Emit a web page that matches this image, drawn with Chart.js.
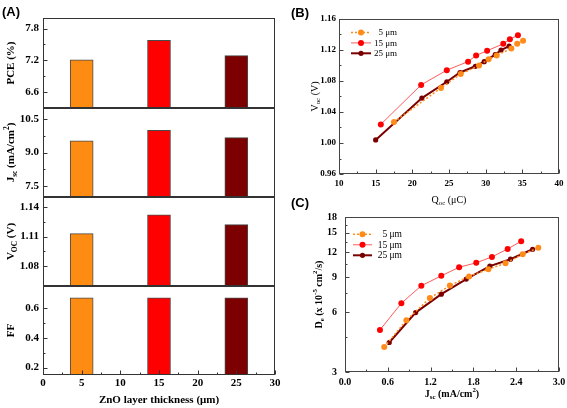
<!DOCTYPE html>
<html>
<head>
<meta charset="utf-8">
<script src="https://cdn.jsdelivr.net/npm/chart.js@4.4.1/dist/chart.umd.min.js"></script>
<style>
html, body { margin: 0; padding: 0; background: #fff; }
#fig { position: relative; width: 567px; height: 408px; overflow: hidden; background: #fff; }
canvas { position: absolute; }
</style>
</head>
<body>
<div id="fig">
  <canvas id="pceChart" width="290" height="109" style="left:0px;top:0px"></canvas>
  <canvas id="jscChart" width="290" height="91" style="left:0px;top:107px"></canvas>
  <canvas id="vocChart" width="290" height="91" style="left:0px;top:196px"></canvas>
  <canvas id="ffChart" width="290" height="123" style="left:0px;top:285px"></canvas>
  <canvas id="qocChart" width="277" height="210" style="left:290px;top:0px"></canvas>
  <canvas id="deChart" width="277" height="218" style="left:290px;top:190px"></canvas>
</div>
<script>
// panel A: cell parameters vs ZnO thickness
const thickness = [5, 15, 25];
const pceValues = [7.21, 7.58, 7.29];
const jscValues = [9.53, 10.0, 9.67];
const vocValues = [1.113, 1.132, 1.122];
const ffValues = [0.67, 0.67, 0.67];
const thicknessTicks = [0, 5, 10, 15, 20, 25, 30];

// panel B: Voc vs Qoc
const qoc5 = [17.5, 23.9, 26.6, 29.1, 30.4, 31.5, 33.5, 34.3, 35.1];
const vocB5 = [1.027, 1.071, 1.089, 1.100, 1.108, 1.113, 1.122, 1.128, 1.132];
const qoc15 = [15.7, 21.2, 24.7, 27.6, 28.7, 30.2, 32.4, 33.3, 34.4];
const vocB15 = [1.024, 1.075, 1.094, 1.105, 1.113, 1.119, 1.128, 1.134, 1.139];
const qoc25 = [15.0, 21.3, 24.7, 26.5, 28.6, 29.8, 31.3, 32.1, 33.2];
const vocB25 = [1.004, 1.058, 1.079, 1.091, 1.099, 1.105, 1.114, 1.120, 1.125];
const qocTicks = [10, 15, 20, 25, 30, 35, 40];
const vocBTicks = [0.96, 1.00, 1.04, 1.08, 1.12, 1.16];

// panel C: De vs Jsc
const jsc5 = [0.55, 0.86, 1.19, 1.47, 1.74, 2.01, 2.25, 2.49, 2.71];
const de5 = [4.0, 5.45, 7.05, 8.15, 9.05, 9.85, 10.55, 11.7, 12.6];
const jsc15 = [0.49, 0.79, 1.07, 1.35, 1.60, 1.84, 2.06, 2.28, 2.47];
const de15 = [4.88, 6.64, 8.13, 9.12, 10.07, 10.6, 11.35, 12.44, 13.6];
const jsc25 = [0.62, 0.99, 1.35, 1.70, 2.03, 2.32, 2.63];
const de25 = [4.22, 5.96, 7.38, 8.78, 10.2, 11.05, 12.4];
const jscTicks = [0, 0.6, 1.2, 1.8, 2.4, 3.0];
const deTicks = [3, 6, 9, 12, 15, 18];

const serif = "'Liberation Serif', 'Times New Roman', serif";
const sans = "'Liberation Sans', Arial, sans-serif";
const barColors = ['#FF8C12', '#FF0000', '#7D0000'];
const orange = '#FF8C1A';
const red = '#FF0000';
const darkRed = '#7A0000';

function halves(ticks) {
    const out = [];
    for (let i = 0; i < ticks.length - 1; i++) out.push((ticks[i] + ticks[i + 1]) / 2);
    return out;
}

// chart.js reserves room for edge labels; the box is fixed here instead
function noEdgePad(s) {
    s.paddingTop = 0;
    s.paddingBottom = 0;
    s.paddingLeft = 0;
    s.paddingRight = 0;
}

function drawRich(ctx, segs, x, y, size, weight, rotate, family, align) {
    ctx.save();
    ctx.translate(x, y);
    if (rotate) ctx.rotate(-Math.PI / 2);
    const parts = segs.map(([t, k]) => {
        const s = k ? size * 0.68 : size;
        ctx.font = `${weight} ${s}px ${family}`;
        return { t, k, s, w: ctx.measureText(t).width };
    });
    const total = parts.reduce((acc, p) => acc + p.w, 0);
    let cx = align === 'left' ? 0 : -total / 2;
    const base = size * 0.35;
    ctx.fillStyle = '#000';
    ctx.textBaseline = 'alphabetic';
    ctx.textAlign = 'left';
    parts.forEach(p => {
        ctx.font = `${weight} ${p.s}px ${family}`;
        let dy = base;
        if (p.k === 'sub') dy += size * 0.25;
        if (p.k === 'sup') dy -= size * 0.42;
        ctx.fillText(p.t, cx, dy);
        cx += p.w;
    });
    ctx.restore();
}

// box round the plot area plus inward tick marks
const framePlugin = {
    id: 'frame',
    afterDraw(chart, args, o) {
        const { ctx, chartArea: a } = chart;
        const x0 = Math.round(a.left) + 0.5, y0 = Math.round(a.top) + 0.5;
        const x1 = Math.round(a.right) - 0.5, y1 = Math.round(a.bottom) - 0.5;
        const sx = chart.scales.x, sy = chart.scales.y;
        ctx.save();
        ctx.strokeStyle = o.color;
        ctx.lineWidth = 1;
        ctx.strokeRect(x0, y0, x1 - x0, y1 - y0);
        ctx.beginPath();
        (o.xMajor || []).forEach(v => { const p = Math.round(sx.getPixelForValue(v)) + 0.5; ctx.moveTo(p, y1); ctx.lineTo(p, y1 - 4); });
        (o.xMinor || []).forEach(v => { const p = Math.round(sx.getPixelForValue(v)) + 0.5; ctx.moveTo(p, y1); ctx.lineTo(p, y1 - 2); });
        (o.yMajor || []).forEach(v => { const p = Math.round(sy.getPixelForValue(v)) + 0.5; ctx.moveTo(x0, p); ctx.lineTo(x0 + 4, p); });
        (o.yMinor || []).forEach(v => { const p = Math.round(sy.getPixelForValue(v)) + 0.5; ctx.moveTo(x0, p); ctx.lineTo(x0 + 2, p); });
        ctx.stroke();
        ctx.restore();
    }
};

const textPlugin = {
    id: 'richText',
    afterDraw(chart, args, o) {
        const a = chart.chartArea;
        (o.items || []).forEach(it => {
            const x = it.x === 'mid' ? (a.left + a.right) / 2 : it.x;
            const y = it.y === 'mid' ? (a.top + a.bottom) / 2 : it.y;
            drawRich(chart.ctx, it.segs, x, y, it.size, it.weight || 'normal', it.rotate, it.family || serif, it.align);
        });
    }
};

const legendPlugin = {
    id: 'lineLegend',
    afterDraw(chart, args, o) {
        const { ctx, chartArea: a } = chart;
        chart.data.datasets.forEach((ds, i) => {
            const y = a.top + o.top + i * o.rowH;
            const x0 = a.left + o.left, x1 = x0 + o.len;
            ctx.save();
            ctx.strokeStyle = ds.borderColor;
            ctx.lineWidth = ds.borderWidth;
            ctx.setLineDash(ds.borderDash || []);
            ctx.beginPath();
            ctx.moveTo(x0, y);
            ctx.lineTo(x1, y);
            ctx.stroke();
            ctx.setLineDash([]);
            ctx.fillStyle = ds.pointBackgroundColor;
            ctx.beginPath();
            ctx.arc((x0 + x1) / 2, y, ds.pointRadius, 0, Math.PI * 2);
            ctx.fill();
            ctx.fillStyle = '#000';
            ctx.font = `${o.size}px ${serif}`;
            ctx.textAlign = 'right';
            ctx.textBaseline = 'middle';
            ctx.fillText(ds.label, a.left + o.textRight, y + 0.5);
            ctx.restore();
        });
    }
};

function barPanel(canvasId, values, yMin, yMax, yTicks, digits, titleSegs, pad, showX, extraItems) {
    const items = [{ segs: titleSegs, x: 10, y: 'mid', size: 11, weight: 'bold', rotate: true }].concat(extraItems || []);
    const frame = { color: '#333', yMajor: yTicks, yMinor: halves(yTicks) };
    const xScale = {
        type: 'linear',
        min: 0,
        max: 30,
        offset: false,
        display: showX,
        grid: { display: false, drawTicks: false },
        border: { display: false },
        afterBuildTicks: s => { s.ticks = thicknessTicks.map(v => ({ value: v })); },
        ticks: { padding: 2, color: '#000', font: { family: serif, size: 11, weight: 'bold' } },
        title: {
            display: true,
            text: 'ZnO layer thickness (μm)',
            color: '#000',
            font: { family: serif, size: 11, weight: 'bold' },
            padding: { top: 0, bottom: 1 }
        },
        afterFit: s => { noEdgePad(s); if (showX) s.height = 33; }
    };
    if (showX) {
        frame.xMajor = thicknessTicks;
        frame.xMinor = halves(thicknessTicks);
    }
    return new Chart(document.getElementById(canvasId), {
        type: 'bar',
        data: {
            datasets: [{
                data: thickness.map((t, i) => ({ x: t, y: values[i] })),
                backgroundColor: barColors,
                borderColor: '#4a4a4a',
                borderWidth: 1,
                barThickness: 23,
                base: yMin
            }]
        },
        options: {
            responsive: false,
            animation: false,
            events: [],
            layout: { padding: { top: pad[0], bottom: pad[1], left: 0, right: 15 } },
            scales: {
                x: xScale,
                y: {
                    min: yMin,
                    max: yMax,
                    grid: { display: false, drawTicks: false },
                    border: { display: false },
                    afterBuildTicks: s => { s.ticks = yTicks.map(v => ({ value: v })); },
                    ticks: {
                        padding: 4,
                        color: '#000',
                        font: { family: serif, size: 11, weight: 'bold' },
                        callback: v => Number(v).toFixed(digits)
                    },
                    afterFit: s => { noEdgePad(s); s.width = 43; }
                }
            },
            plugins: {
                legend: { display: false },
                tooltip: { enabled: false },
                frame: frame,
                richText: { items: items }
            }
        },
        plugins: [framePlugin, textPlugin]
    });
}

barPanel('pceChart', pceValues, 6.3, 8.0, [6.6, 7.2, 7.8], 1, [['PCE (%)']], [18, 1], false,
    [{ segs: [['(A)']], x: 2, y: 11, size: 13, weight: 'bold', family: sans, align: 'left' }]);
barPanel('jscChart', jscValues, 7.0, 11.0, [7.5, 9.0, 10.5], 1,
    [['J'], ['sc', 'sub'], [' (mA/cm'], ['2', 'sup'], [')']], [1, 1], false);
barPanel('vocChart', vocValues, 1.06, 1.15, [1.08, 1.11, 1.14], 2,
    [['V'], ['OC', 'sub'], [' (V)']], [1, 1], false);
barPanel('ffChart', ffValues, 0.15, 0.75, [0.2, 0.4, 0.6], 1, [['FF']], [1, 0], true);

function pairs(xs, ys) {
    return xs.map((x, i) => ({ x: x, y: ys[i] }));
}

function seriesSet(d5, d15, d25) {
    return [
        { label: '5 μm', data: d5, borderColor: orange, pointBackgroundColor: orange, borderWidth: 1.5, borderDash: [2, 2], pointRadius: 3, pointBorderWidth: 0, tension: 0 },
        { label: '15 μm', data: d15, borderColor: '#FF5A5A', pointBackgroundColor: red, borderWidth: 1, pointRadius: 3, pointBorderWidth: 0, tension: 0 },
        { label: '25 μm', data: d25, borderColor: darkRed, pointBackgroundColor: darkRed, borderWidth: 2, pointRadius: 2.6, pointBorderWidth: 0, tension: 0 }
    ];
}

new Chart(document.getElementById('qocChart'), {
    type: 'line',
    data: { datasets: seriesSet(pairs(qoc5, vocB5), pairs(qoc15, vocB15), pairs(qoc25, vocB25)) },
    options: {
        responsive: false,
        animation: false,
        events: [],
        layout: { padding: { top: 19, bottom: 0, left: 0, right: 8 } },
        scales: {
            x: {
                type: 'linear', min: 10, max: 40,
                grid: { display: false, drawTicks: false }, border: { display: false },
                afterBuildTicks: s => { s.ticks = qocTicks.map(v => ({ value: v })); },
                ticks: { padding: 4, color: '#000', font: { family: serif, size: 9, weight: 'bold' } },
                afterFit: s => { noEdgePad(s); s.height = 36; }
            },
            y: {
                type: 'linear', min: 0.96, max: 1.16,
                grid: { display: false, drawTicks: false }, border: { display: false },
                afterBuildTicks: s => { s.ticks = vocBTicks.map(v => ({ value: v })); },
                ticks: { padding: 3, color: '#000', font: { family: serif, size: 9, weight: 'bold' }, callback: v => Number(v).toFixed(2) },
                afterFit: s => { noEdgePad(s); s.width = 49; }
            }
        },
        plugins: {
            legend: { display: false },
            tooltip: { enabled: false },
            frame: { color: '#444', xMajor: qocTicks, xMinor: halves(qocTicks), yMajor: vocBTicks, yMinor: halves(vocBTicks) },
            lineLegend: { left: 12, len: 20, top: 13.5, rowH: 10.4, textRight: 58, size: 9 },
            richText: {
                items: [
                    { segs: [['(B)']], x: 1, y: 12, size: 13, weight: 'bold', family: sans, align: 'left' },
                    { segs: [['V'], ['oc', 'sub'], [' (V)']], x: 24, y: 'mid', size: 10, rotate: true },
                    { segs: [['Q'], ['oc', 'sub'], [' (μC)']], x: 'mid', y: 199, size: 10 }
                ]
            }
        }
    },
    plugins: [framePlugin, legendPlugin, textPlugin]
});

new Chart(document.getElementById('deChart'), {
    type: 'line',
    data: { datasets: seriesSet(pairs(jsc5, de5), pairs(jsc15, de15), pairs(jsc25, de25)) },
    options: {
        responsive: false,
        animation: false,
        events: [],
        layout: { padding: { top: 27, bottom: 0, left: 0, right: 8 } },
        scales: {
            x: {
                type: 'linear', min: 0, max: 3,
                grid: { display: false, drawTicks: false }, border: { display: false },
                afterBuildTicks: s => { s.ticks = jscTicks.map(v => ({ value: v })); },
                ticks: { padding: 4, color: '#000', font: { family: serif, size: 10, weight: 'bold' }, callback: v => Number(v).toFixed(1) },
                afterFit: s => { noEdgePad(s); s.height = 36; }
            },
            y: {
                type: 'logarithmic', min: 3, max: 18,
                grid: { display: false, drawTicks: false }, border: { display: false },
                afterBuildTicks: s => { s.ticks = deTicks.map(v => ({ value: v })); },
                ticks: { padding: 8, color: '#000', font: { family: serif, size: 10, weight: 'bold' }, callback: v => String(v) },
                afterFit: s => { noEdgePad(s); s.width = 55; }
            }
        },
        plugins: {
            legend: { display: false },
            tooltip: { enabled: false },
            frame: { color: '#444', xMajor: jscTicks, xMinor: halves(jscTicks), yMajor: deTicks, yMinor: halves(deTicks) },
            lineLegend: { left: 8, len: 19, top: 17.3, rowH: 10.5, textRight: 57, size: 9.5 },
            richText: {
                items: [
                    { segs: [['(C)']], x: 1, y: 12, size: 13, weight: 'bold', family: sans, align: 'left' },
                    { segs: [['D'], ['e', 'sub'], [' (x 10'], ['-5', 'sup'], [' cm'], ['2', 'sup'], ['/s)']], x: 28, y: 'mid', size: 10, weight: 'bold', rotate: true },
                    { segs: [['J'], ['sc', 'sub'], [' (mA/cm'], ['2', 'sup'], [')']], x: 'mid', y: 203, size: 10, weight: 'bold' }
                ]
            }
        }
    },
    plugins: [framePlugin, legendPlugin, textPlugin]
});
</script>
</body>
</html>
